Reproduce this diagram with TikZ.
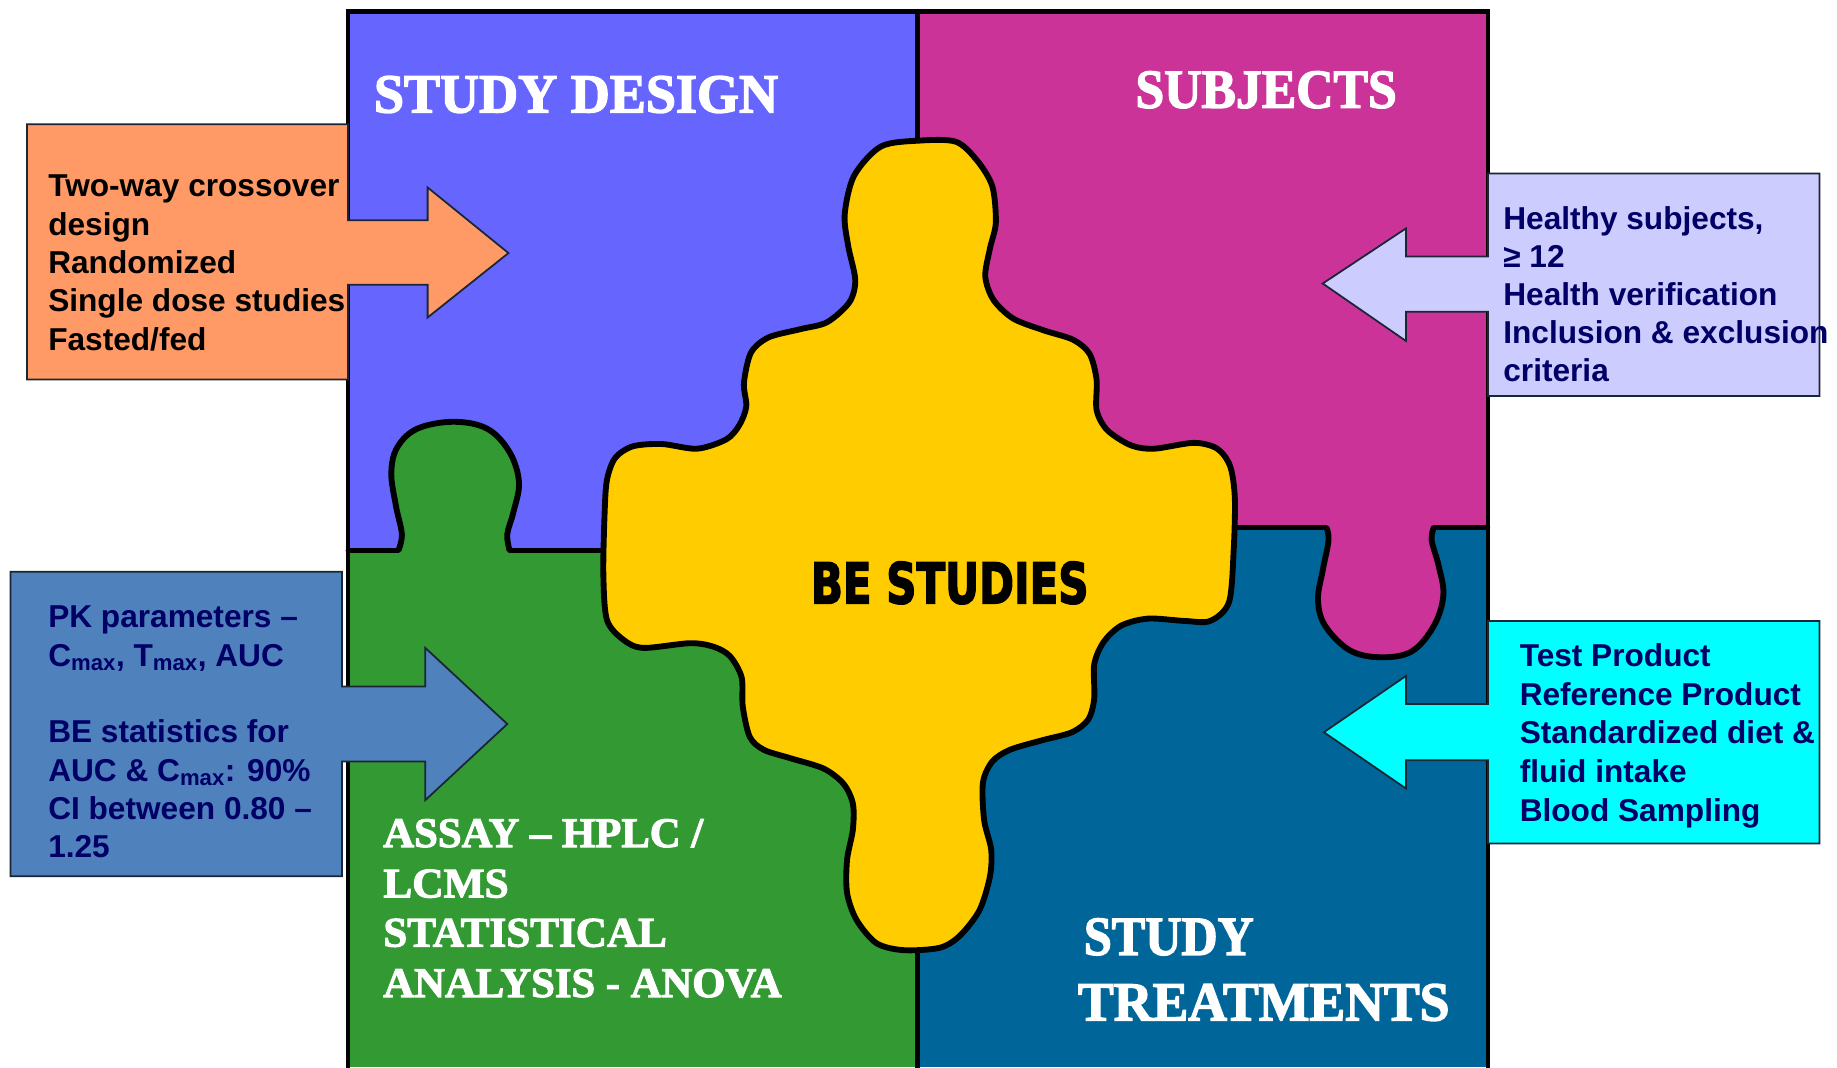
\documentclass[tikz,border=0pt]{standalone}
\usepackage{fontspec}
\usepackage{graphicx}
\setmainfont{Liberation Sans}
\newfontfamily\hdfont{Liberation Serif}
\newfontfamily\befont{DejaVu Sans}
\definecolor{cP}{HTML}{6666FF}
\definecolor{cM}{HTML}{CC3399}
\definecolor{cG}{HTML}{339933}
\definecolor{cB}{HTML}{006699}
\definecolor{cY}{HTML}{FFCC00}
\definecolor{cOr}{HTML}{FF9966}
\definecolor{cLav}{HTML}{CCCCFF}
\definecolor{cCy}{HTML}{00FFFF}
\definecolor{cSt}{HTML}{4F81BD}
\definecolor{cNavy}{HTML}{000066}
\definecolor{cEdge}{HTML}{1A2633}
\newcommand\fitw[2]{\resizebox{#1}{\height}{#2}}
\newcommand\boxlines[2]{\vtop{\baselineskip=#1\lineskiplimit=-100pt\lineskip=0pt\halign{##\hfil\cr#2\crcr}}}
\tikzset{
  bord/.style={line width=4pt, line cap=round},
  outl/.style={line width=5pt, line join=round},
  callout/.style={draw=cEdge, line width=1.5pt, line join=miter},
  txt/.style={inner sep=0pt, anchor=base west, font=\fontsize{27}{33}\selectfont\bfseries},
  hd/.style={inner sep=0pt, anchor=base west, text=white, font=\hdfont\bfseries\addfontfeature{FakeBold=2.5}\fontsize{47}{50}\selectfont},
  gt/.style={inner sep=0pt, anchor=base west, text=white, font=\hdfont\bfseries\addfontfeature{FakeBold=2.5}\fontsize{36}{40}\selectfont},
}
\begin{document}
\begin{tikzpicture}[x=1pt,y=-1pt]
\useasboundingbox (0,0) rectangle (1568,911);
\fill[white] (0,0) rectangle (1568,911);
% quadrants
\fill[cP] (297,10) rectangle (783,470);
\fill[cM] (783,10) rectangle (1270,450);
\fill[cG] (297,470) rectangle (783,911);
\fill[cB] (783,450) rectangle (1270,911);
% green tab
\fill[cG] plot[smooth,tension=0.6] coordinates {(340,472)(343,456)(338,432)(334,404)(339,382)(356,366)(387,360)(416,366)(435,386)(443,412)(438,438)(433,456)(435,472)} -- cycle;
\draw[outl] plot[smooth,tension=0.6] coordinates {(340,470)(343,456)(338,432)(334,404)(339,382)(356,366)(387,360)(416,366)(435,386)(443,412)(438,438)(433,456)(435,470)};
% magenta tab
\fill[cM] plot[smooth,tension=0.6] coordinates {(1132,448)(1134,461)(1129,487)(1125,512)(1131,534)(1152,555)(1178,561)(1205,556)(1224,534)(1232,508)(1228,483)(1222,461)(1224,448)} -- cycle;
\draw[outl] plot[smooth,tension=0.6] coordinates {(1132,450)(1134,461)(1129,487)(1125,512)(1131,534)(1152,555)(1178,561)(1205,556)(1224,534)(1232,508)(1228,483)(1222,461)(1224,450)};
% dividers
\draw[bord] (297,470) -- (340,470);
\draw[bord] (435,470) -- (540,470);
\draw[bord] (1030,450) -- (1132,450);
\draw[bord] (1224,450) -- (1270,450);
\draw[bord] (783,10) -- (783,140);
\draw[bord] (783,790) -- (783,911);
% yellow centre piece
\filldraw[fill=cY, draw=black, outl] plot[smooth cycle, tension=0.5] coordinates {
(785,120)(816,121)(834,137)(847,159)(850,190)(845,212)(841,236)(848,256)(865,272)(891,282)(916,290)(930,302)(936,324)(936,350)(945,367)(965,380)(985,383)(1019,378)(1039,383)(1050,398)(1054,425)(1053,470)(1049,514)(1033,530)(1011,530)(980,528)(957,534)(942,548)(934,567)(934,596)(929,614)(915,625)(889,632)(862,640)(847,650)(839,668)(840,700)(846,725)(845,748)(836,777)(819,799)(802,809)(771,811)(748,805)(731,785)(723,762)(723,734)(728,708)(728,686)(720,669)(703,656)(674,647)(652,640)(640,629)(634,603)(633,578)(623,560)(609,552)(589,549)(549,553)(532,546)(518,529)(515,490)(516,440)(518,410)(525,391)(540,381)(565,379)(595,383)(620,375)(631,363)(637,347)(635,327)(641,301)(656,288)(683,281)(706,275)(725,258)(730,239)(724,210)(721,183)(729,150)(752,125)};
% outer frame
\draw[bord, line cap=butt] (297,913) -- (297,10) -- (1270,10) -- (1270,913);
% callouts
\draw[callout, fill=cOr] (23,106) -- (297,106) -- (297,188) -- (365,188) -- (365,160) -- (434,216) -- (365,271) -- (365,243) -- (297,243) -- (297,324) -- (23,324) -- cycle;
\draw[callout, fill=cSt] (9,488) -- (292,488) -- (292,586) -- (363,586) -- (363,553) -- (433,618) -- (363,683) -- (363,650) -- (292,650) -- (292,748) -- (9,748) -- cycle;
\draw[callout, fill=cLav] (1553,148) -- (1270,148) -- (1270,219) -- (1200,219) -- (1200,195) -- (1129,242) -- (1200,291) -- (1200,266) -- (1270,266) -- (1270,338) -- (1553,338) -- cycle;
\draw[callout, fill=cCy] (1553,530) -- (1270,530) -- (1270,601) -- (1200,601) -- (1200,577) -- (1130,625) -- (1200,673) -- (1200,649) -- (1270,649) -- (1270,720) -- (1553,720) -- cycle;
% callout texts
\node[txt, text=black] (tDesign) at (41,168) {\boxlines{32.7pt}{Two-way crossover\cr design\cr Randomized\cr Single dose studies\cr Fasted/fed}};
\node[txt, text=cNavy] (tPK) at (41,536) {\boxlines{32.7pt}{PK parameters \textendash\cr C\textsubscript{max}, T\textsubscript{max}, AUC\cr \cr BE statistics for\cr AUC \& C\textsubscript{max}: 90\%\cr CI between 0.80 \textendash\cr 1.25}};
\node[txt, text=cNavy] (tSubj) at (1283,196) {\boxlines{32.5pt}{Healthy subjects,\cr ≥ 12\cr Health verification\cr Inclusion \& exclusion\cr criteria}};
\node[txt, text=cNavy] (tTreat) at (1297,569) {\boxlines{33pt}{Test Product\cr Reference Product\cr Standardized diet \&\cr fluid intake\cr Blood Sampling}};
% headings
\node[hd] (hDesign) at (319,96) {\fitw{345pt}{STUDY DESIGN}};
\node[hd] (hSubj) at (969,92) {\fitw{223pt}{SUBJECTS}};
\node[hd] (hStudy) at (925,815) {\fitw{145pt}{STUDY}};
\node[hd] (hTreat) at (920,871) {\fitw{317pt}{TREATMENTS}};
\node[gt] (gA) at (327,723) {\fitw{273pt}{ASSAY \textendash\ HPLC /}};
\node[gt] (gB) at (327,766) {\fitw{107pt}{LCMS}};
\node[gt] (gC) at (327,808) {\fitw{242pt}{STATISTICAL}};
\node[gt] (gD) at (327,851) {\fitw{340pt}{ANALYSIS - ANOVA}};
\node[inner sep=0pt, anchor=base west, font=\befont\bfseries\addfontfeature{FakeBold=3}\fontsize{48}{50}\selectfont] (be) at (692,515) {\fitw{237pt}{BE STUDIES}};
\end{tikzpicture}
\end{document}
